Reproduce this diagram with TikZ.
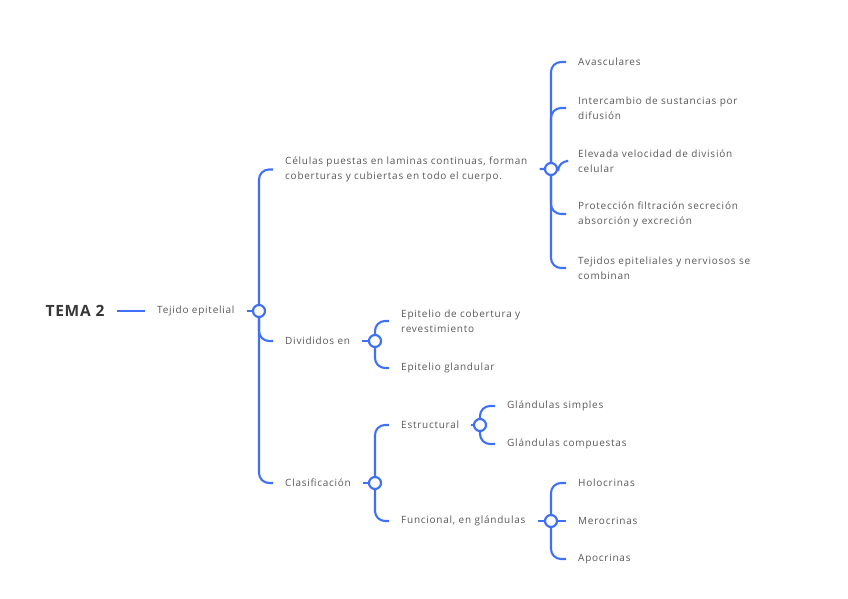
\documentclass[tikz,border=0pt]{standalone}
\usepackage{fontspec}
\setmainfont[LetterSpace=7.5]{Open Sans}
\newfontfamily\temafont[LetterSpace=5]{Open Sans}
\usepackage{xcolor}
\usetikzlibrary{positioning}
\definecolor{rama}{RGB}{64,112,247}
\definecolor{texto}{RGB}{88,88,88}
\definecolor{titulo}{RGB}{55,55,55}

\begin{document}
\begin{tikzpicture}[
    x=1pt, y=-1pt,
    item/.style={inner xsep=12pt, inner ysep=2pt, align=left, anchor=west, text=texto, font=\fontsize{10}{15}\selectfont},
    hub/.style={circle, draw=rama, fill=white, line width=2.2pt, minimum size=12pt, inner sep=0pt},
    link/.style={draw=rama, line width=2.1pt, rounded corners=10pt}
]
\useasboundingbox (0,0) rectangle (848,599);

% raiz
\node[font=\temafont\fontsize{15.5}{17}\selectfont\bfseries, text=titulo, inner xsep=12pt] (tema) at (75, 311) {TEMA 2};
\node[item] (tejido) at (145, 311) {Tejido epitelial};
\node[hub] (c1) at (259, 311) {};

% primer nivel
\node[item] (celulas) at (273, 169.5) {Células puestas en laminas continuas, forman\\coberturas y cubiertas en todo el cuerpo.};
\node[hub] (c2) at (551, 169) {};
\node[item] (divid) at (273, 341) {Divididos en};
\node[hub] (c3) at (375, 341) {};
\node[item] (clasif) at (273, 483) {Clasificación};
\node[hub] (c4) at (375, 483) {};

% caracteristicas
\node[item] (avas) at (566, 62) {Avasculares};
\node[item] (inter) at (566, 108) {Intercambio de sustancias por\\difusión};
\node[item] (elev) at (566, 161) {Elevada velocidad de división\\celular};
\node[item] (prot) at (566, 214) {Protección filtración secreción\\absorción y excreción};
\node[item] (tejn) at (566, 268) {Tejidos epiteliales y nerviosos se\\combinan};

% divisiones
\node[item] (epcob) at (389, 321) {Epitelio de cobertura y\\revestimiento};
\node[item] (epgl) at (389, 368) {Epitelio glandular};

% clasificacion
\node[item] (estr) at (389, 425) {Estructural};
\node[hub] (c5) at (480, 425) {};
\node[item] (func) at (389, 521) {Funcional, en glándulas};
\node[hub] (c6) at (551, 521) {};
\node[item] (gsimp) at (495, 406) {Glándulas simples};
\node[item] (gcomp) at (495, 444) {Glándulas compuestas};
\node[item] (holo) at (566, 483) {Holocrinas};
\node[item] (mero) at (566, 521) {Merocrinas};
\node[item] (apo) at (566, 559) {Apocrinas};

% conectores
\draw[link] (tema) -- (tejido);
\draw[link] (tejido) -- (c1);
\draw[link] (c1.north) |- (celulas.west);
\draw[link] (c1.south) |- (divid.west);
\draw[link] (c1.south) |- (clasif.west);

\draw[link] (celulas) -- (c2);
\draw[link] (c2.north) |- (avas.west);
\draw[link] (c2.north) |- (inter.west);
\draw[link] (c2.east) |- (elev.west);
\draw[link] (c2.south) |- (prot.west);
\draw[link] (c2.south) |- (tejn.west);

\draw[link] (divid) -- (c3);
\draw[link] (c3.north) |- (epcob.west);
\draw[link] (c3.south) |- (epgl.west);

\draw[link] (clasif) -- (c4);
\draw[link] (c4.north) |- (estr.west);
\draw[link] (c4.south) |- (func.west);

\draw[link] (estr) -- (c5);
\draw[link] (c5.north) |- (gsimp.west);
\draw[link] (c5.south) |- (gcomp.west);

\draw[link] (func) -- (c6);
\draw[link] (c6.north) |- (holo.west);
\draw[link] (c6.east) -- (mero.west);
\draw[link] (c6.south) |- (apo.west);

\end{tikzpicture}
\end{document}
